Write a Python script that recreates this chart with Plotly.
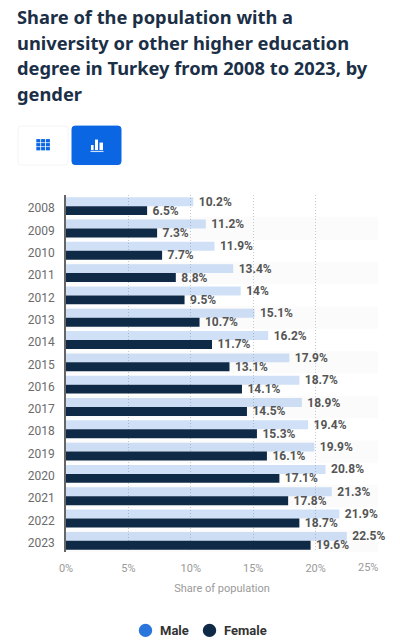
import plotly.graph_objects as go

years = ["2008","2009","2010","2011","2012","2013","2014","2015","2016","2017","2018","2019","2020","2021","2022","2023"]
male = [10.2,11.2,11.9,13.4,14,15.1,16.2,17.9,18.7,18.9,19.4,19.9,20.8,21.3,21.9,22.5]
female = [6.5,7.3,7.7,8.8,9.5,10.7,11.7,13.1,14.1,14.5,15.3,16.1,17.1,17.8,18.7,19.6]
x_ticks = [0,5,10,15,20,25]
x_tick_labels = ["0%","5%","10%","15%","20%",""]
title_lines = ["Share of the population with a",
               "university or other higher education",
               "degree in Turkey from 2008 to 2023, by",
               "gender"]

W, H = 400, 642
L, R, T, B = 66, 378, 195, 552.5

def px(x): return (x - L) / (R - L)
def py(y): return (B - y) / (B - T)

def rrect(x0, y0, x1, y1, r, fill, line=None, layer="above"):
    p = (f"M {px(x0+r)} {py(y0)} L {px(x1-r)} {py(y0)} Q {px(x1)} {py(y0)} {px(x1)} {py(y0+r)} "
         f"L {px(x1)} {py(y1-r)} Q {px(x1)} {py(y1)} {px(x1-r)} {py(y1)} "
         f"L {px(x0+r)} {py(y1)} Q {px(x0)} {py(y1)} {px(x0)} {py(y1-r)} "
         f"L {px(x0)} {py(y0+r)} Q {px(x0)} {py(y0)} {px(x0+r)} {py(y0)} Z")
    return dict(type="path", path=p, xref="paper", yref="paper", fillcolor=fill,
                line=dict(color=line or fill, width=1), layer=layer)

def box(x0, y0, x1, y1, fill):
    return dict(type="rect", xref="paper", yref="paper", x0=px(x0), x1=px(x1), y0=py(y0), y1=py(y1),
                fillcolor=fill, line=dict(width=0))

def dot(cx, cy, r, fill):
    return dict(type="circle", xref="paper", yref="paper", x0=px(cx-r), x1=px(cx+r), y0=py(cy+r), y1=py(cy-r),
                fillcolor=fill, line=dict(width=0))

def text_at(x, y, s, font, anchor="left"):
    return dict(xref="paper", yref="paper", x=px(x), y=py(y), text=s, showarrow=False,
                xanchor=anchor, yanchor="middle", font=font, borderpad=0, borderwidth=0)

shapes = []
for i in range(1, len(years), 2):
    shapes.append(dict(type="rect", xref="paper", yref="y", x0=0, x1=1, y0=i-0.5, y1=i+0.5,
                       fillcolor="#fbfbfb", line=dict(width=0), layer="below"))
shapes.append(rrect(18, 126, 68, 165, 3, "#ffffff", "#f3f4f6"))
shapes.append(rrect(72, 126, 121, 164.5, 3, "#0b66e4"))
for r_ in range(3):
    for c in range(3):
        gx = 36.3 + c * 4.8
        gy = 139 + r_ * 4.0
        shapes.append(box(gx, gy, gx + 4, gy + 3.3, "#0b66e4"))
shapes.append(box(91, 145, 93.6, 150, "#ffffff"))
shapes.append(box(95, 139.5, 98, 150, "#ffffff"))
shapes.append(box(99.5, 142.5, 103, 150, "#ffffff"))
shapes.append(box(90.5, 150.8, 103.5, 152, "#cfe0f7"))
shapes.append(dot(145.5, 631, 6.7, "#2a76dc"))
shapes.append(dot(209.5, 631, 6.7, "#0f2a47"))

label_font = dict(family="Roboto", size=12, color="#555555", weight=700)
title_font = dict(family="Noto Sans", size=18.3, color="#1b2f47", weight=700)
legend_font = dict(family="Roboto", size=13, color="#333333", weight=700)
tick_font = dict(family="Roboto", size=11, color="#9a9a9a")

annotations = [text_at(16.5, 16.6 + i * 25.6, s, title_font) for i, s in enumerate(title_lines)]
annotations.append(text_at(378, 568, "25%", tick_font, "right"))
annotations.append(text_at(160, 631.5, "Male", legend_font))
annotations.append(text_at(224, 631.5, "Female", legend_font))

fig = go.Figure()
fig.add_bar(y=years, x=male, orientation="h", name="Male", showlegend=False,
            marker=dict(color="rgba(42,118,220,0.22)", line=dict(width=0)),
            text=[f"\u2009{v}%" for v in male], textposition="outside", constraintext="none",
            textfont=label_font, cliponaxis=False)
fig.add_bar(y=years, x=female, orientation="h", name="Female", showlegend=False,
            marker=dict(color="#0f2a47", line=dict(width=0)),
            text=[f"\u2009{v}%" for v in female], textposition="outside", constraintext="none",
            textfont=label_font, cliponaxis=False)

fig.update_layout(
    width=W, height=H, autosize=False, showlegend=False,
    margin=dict(l=L, r=W-R, t=T, b=H-B, pad=0),
    paper_bgcolor="#ffffff", plot_bgcolor="#ffffff",
    barmode="group", bargap=0.2, bargroupgap=0,
    xaxis=dict(range=[0,25], tickvals=x_ticks, ticktext=x_tick_labels,
               showgrid=True, griddash="1px,2px", gridcolor="#c5cad0", gridwidth=1,
               zeroline=False, showline=False, ticks="", ticklabelstandoff=8,
               tickfont=tick_font,
               title=dict(text="Share of population", standoff=10, font=tick_font)),
    yaxis=dict(type="category", categoryorder="array", categoryarray=years, range=[15.5,-0.5],
               showgrid=False, zeroline=False, showline=True, linecolor="#666666", linewidth=1.5,
               ticks="", ticklabelstandoff=7, ticklabelshift=-2,
               tickfont=dict(family="Roboto", size=12, color="#6b6b6b")),
    shapes=shapes,
    annotations=annotations,
)
fig.write_html("out.html", post_script="document.body.style.margin='0';document.documentElement.style.overflow='hidden';",
               config=dict(displayModeBar=False))
